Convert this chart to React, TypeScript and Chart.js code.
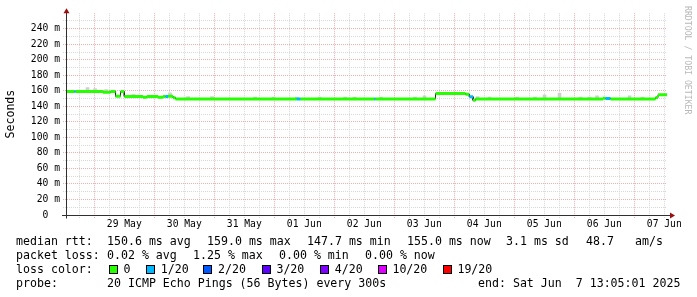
import React, { useEffect, useRef } from 'react';
import { Chart, registerables } from 'chart.js';

Chart.register(...registerables);

// ---- data (time = hours since 28 May 2025 00:00, values in ms) ----
const startHour = 13.083;
const endHour = 253.083;
const dayLabels = ['28 May', '29 May', '30 May', '31 May', '01 Jun', '02 Jun', '03 Jun', '04 Jun', '05 Jun', '06 Jun', '07 Jun'];
const yTickValues = [0, 20, 40, 60, 80, 100, 120, 140, 160, 180, 200, 220, 240];
const yTickLabels = ['0  ', '20 m', '40 m', '60 m', '80 m', '100 m', '120 m', '140 m', '160 m', '180 m', '200 m', '220 m', '240 m'];

// median rtt, as constant steps
const segStart = [13.083, 16, 16.5, 27.5, 30.5, 32.5, 34.5, 36, 43.5, 45, 49.5, 51.5, 52.5, 53.5, 55.5, 56.5, 105, 106.5, 136, 136.5, 160.5, 172.5, 174, 175.5, 176.5, 227.5, 228.5, 230.5, 248.5, 249.5];
const segValue = [159, 159, 159, 158, 159, 153, 159, 152.8, 151.8, 152.8, 151.8, 152.8, 152.8, 153, 151, 149.6, 149.6, 149.6, 149.6, 149.6, 156.5, 155.5, 152.5, 147.7, 149.6, 150.5, 150.2, 149.6, 151.3, 155];
const segLoss = [0, 1, 0, 0, 0, 0, 0, 0, 0, 0, 0, 0, 1, 0, 0, 0, 1, 0, 1, 0, 0, 0, 1, 0, 0, 0, 1, 0, 0, 0];

// smoke (max ping spread) spikes
const smokeTime = [14.9, 21.3, 24.3, 28.7, 39.7, 54.3, 61.5, 71.1, 88.3, 95.7, 105, 114.1, 124.3, 128.1, 138.7, 152.3, 156.1, 164.3, 168.5, 177.3, 182.1, 193.1, 200.3, 204.1, 210.1, 218.5, 222.1, 225.1, 238.1, 243.3];
const smokeTop = [160.6, 164.3, 163, 161.7, 155.5, 157.4, 152.5, 152.5, 152, 152, 152, 152, 152, 152, 152, 152, 153.5, 158.3, 158.3, 152.6, 152, 152, 152, 154.8, 157, 152, 152, 153.5, 153.5, 152];

const lossLevels = [0, 1, 2, 3, 4, 10, 19];
const lossColors = ['#26ff00', '#00b8ff', '#0059ff', '#5e00ff', '#7e00ff', '#dd00ff', '#ff0000'];
const lossLabels = ['0', '1/20', '2/20', '3/20', '4/20', '10/20', '19/20'];

const rttStats = ['150.6 ms avg', '159.0 ms max', '147.7 ms min', '155.0 ms now', '3.1 ms sd', '48.7', 'am/s'];
const lossStats = ['0.02 % avg', '1.25 % max', '0.00 % min', '0.00 % now'];
const probeText = '20 ICMP Echo Pings (56 Bytes) every 300s';
const endText = 'end: Sat Jun  7 13:05:01 2025';

// ---- helpers ----
const MONO = '"DejaVu Sans Mono", monospace';
const lossColor = (n: number) => {
  let c = lossColors[0];
  lossLevels.forEach((l, i) => { if (n >= l) c = lossColors[i]; });
  return c;
};
const segEnd = (i: number) => (i + 1 < segStart.length ? segStart[i + 1] : endHour);
const medianAt = (t: number) => {
  let v = segValue[0];
  segStart.forEach((s, i) => { if (t >= s) v = segValue[i]; });
  return v;
};

const thickData: any[] = [];
const thinData: any[] = [];
segStart.forEach((s, i) => {
  const e = segEnd(i);
  thickData.push({ x: s, y: segValue[i] }, { x: e, y: segValue[i] }, { x: e, y: null });
  thinData.push({ x: s, y: segValue[i] }, { x: e, y: segValue[i] });
});
const smokeData = smokeTime.map((t, i) => ({ x: t, y: [medianAt(t), smokeTop[i]] }));

const RED_GRID = '#eeb0b0';
const GRAY_GRID = '#d8d8d8';

const overlay = {
  id: 'overlay',
  beforeDraw(chart: any) {
    const { ctx } = chart;
    ctx.save();
    ctx.fillStyle = '#ffffff';
    ctx.fillRect(0, 0, chart.width, chart.height);
    ctx.restore();
  },
  afterDatasetsDraw(chart: any) {
    const { ctx, chartArea: a, scales } = chart;
    const y0 = Math.round(scales.y.getPixelForValue(0) - 0.5) + 0.5;
    const xl = a.left - 0.5;
    ctx.save();
    ctx.strokeStyle = '#303030';
    ctx.lineWidth = 1;
    ctx.setLineDash([]);
    ctx.beginPath();
    ctx.moveTo(xl, y0 + 3);
    ctx.lineTo(xl, a.top - 1);
    ctx.moveTo(a.left - 5, y0);
    ctx.lineTo(a.right + 3, y0);
    ctx.stroke();
    ctx.fillStyle = '#9a1010';
    ctx.beginPath();
    ctx.moveTo(xl, a.top - 5);
    ctx.lineTo(xl - 3, a.top);
    ctx.lineTo(xl + 3, a.top);
    ctx.closePath();
    ctx.fill();
    ctx.beginPath();
    ctx.moveTo(a.right + 8, y0);
    ctx.lineTo(a.right + 3, y0 - 3);
    ctx.lineTo(a.right + 3, y0 + 3);
    ctx.closePath();
    ctx.fill();
    ctx.restore();
  },
  afterDraw(chart: any) {
    const { ctx } = chart;
    ctx.save();
    ctx.fillStyle = '#000';
    ctx.font = `11.6px ${MONO}`;
    ctx.textBaseline = 'alphabetic';
    ctx.textAlign = 'left';
    const r1 = 245.3, r2 = 259.3, r3 = 273.3, r4 = 287.3;
    ctx.fillText('median rtt:', 16, r1);
    const rttX = [107, 207, 307, 407, 506, 586, 635];
    rttStats.forEach((t, i) => ctx.fillText(t, rttX[i], r1));
    ctx.fillText('packet loss:', 16, r2);
    const lossX = [107, 193, 279, 365];
    lossStats.forEach((t, i) => ctx.fillText(t, lossX[i], r2));
    ctx.fillText('loss color:', 16, r3);
    const sqX = [108.7, 146, 203.3, 261.7, 320, 377.7, 442.7];
    lossLabels.forEach((t, i) => {
      const x = Math.round(sqX[i]);
      ctx.fillStyle = lossColors[i];
      ctx.fillRect(x, 265, 9, 9);
      ctx.strokeStyle = '#000';
      ctx.lineWidth = 1;
      ctx.strokeRect(x + 0.5, 265.5, 8, 8);
      ctx.fillStyle = '#000';
      ctx.fillText(t, sqX[i] + 14.7, r3);
    });
    ctx.fillText('probe:', 16, r4);
    ctx.fillText(probeText, 107, r4);
    ctx.fillText(endText, 478, r4);

    // watermark
    ctx.translate(685, 6);
    ctx.rotate(Math.PI / 2);
    ctx.font = `8.2px ${MONO}`;
    ctx.fillStyle = '#b8b8b8';
    ctx.fillText('RRDTOOL / TOBI OETIKER', 0, 0);
    ctx.restore();
  },
};

export default function App() {
  const ref = useRef<HTMLCanvasElement>(null);
  useEffect(() => {
    document.body.style.margin = '0';
    const chart = new Chart(ref.current as HTMLCanvasElement, {
      type: 'line',
      data: {
        datasets: [
          {
            data: thickData,
            borderColor: lossColors[0],
            borderWidth: 3,
            pointRadius: 0,
            spanGaps: false,
            tension: 0,
            order: 0,
            segment: {
              borderColor: (c: any) => lossColor(segLoss[Math.floor(c.p0DataIndex / 3)]),
            },
          } as any,
          {
            data: thinData,
            borderColor: '#202020',
            borderWidth: 1,
            pointRadius: 0,
            tension: 0,
            order: 1,
          } as any,
          {
            type: 'bar',
            data: smokeData,
            backgroundColor: '#d0d0d0',
            borderWidth: 0,
            barThickness: 3,
            order: 2,
          } as any,
        ],
      },
      options: {
        responsive: false,
        animation: false,
        devicePixelRatio: 1,
        events: [],
        layout: { padding: { left: 0, right: 30, top: 13.2, bottom: 0 } },
        plugins: { legend: { display: false }, tooltip: { enabled: false } },
        scales: {
          x: {
            type: 'linear',
            min: startHour,
            max: endHour,
            offset: false,
            afterBuildTicks: (scale: any) => {
              const t: any[] = [];
              for (let h = Math.ceil(scale.min / 6) * 6; h <= scale.max; h += 6) t.push({ value: h });
              scale.ticks = t;
            },
            afterFit: (scale: any) => { scale.height = 82; },
            grid: {
              offset: false,
              color: (c: any) => (c.tick && c.tick.value % 24 === 0 ? RED_GRID : GRAY_GRID),
              lineWidth: 1,
              drawTicks: true,
              tickLength: 3,
              tickBorderDash: [1, 1],
            },
            border: { display: false, dash: [1, 1] },
            ticks: {
              autoSkip: false,
              maxRotation: 0,
              minRotation: 0,
              padding: 1,
              color: '#000',
              font: { family: MONO, size: 9.7 },
              callback: (v: any) => (v % 24 === 12 ? dayLabels[Math.floor(v / 24)] : ''),
            },
          },
          y: {
            type: 'linear',
            min: 0,
            max: 260,
            afterBuildTicks: (scale: any) => {
              const t: any[] = [];
              for (let v = 0; v < 260; v += 10) t.push({ value: v });
              scale.ticks = t;
            },
            afterFit: (scale: any) => { scale.width = 67; },
            grid: {
              color: (c: any) => (c.tick && c.tick.value % 20 === 0 ? RED_GRID : GRAY_GRID),
              lineWidth: 1,
              drawTicks: true,
              tickLength: 4,
              tickBorderDash: [1, 1],
            },
            border: { display: false, dash: [1, 1] },
            title: {
              display: true,
              text: 'Seconds',
              color: '#000',
              font: { family: MONO, size: 11.6 },
              padding: { top: 4, bottom: 0 },
            },
            ticks: {
              autoSkip: false,
              padding: 3,
              color: '#000',
              font: { family: MONO, size: 9.7 },
              callback: (v: any) => {
                const i = yTickValues.indexOf(v);
                return i >= 0 ? yTickLabels[i] : '';
              },
            },
          },
        },
      },
      plugins: [overlay],
    } as any);
    return () => chart.destroy();
  }, []);
  return (
    <div style={{ width: 697, height: 297, background: '#fff' }}>
      <canvas ref={ref} width={697} height={297} style={{ display: 'block', width: '697px', height: '297px' }} />
    </div>
  );
}
